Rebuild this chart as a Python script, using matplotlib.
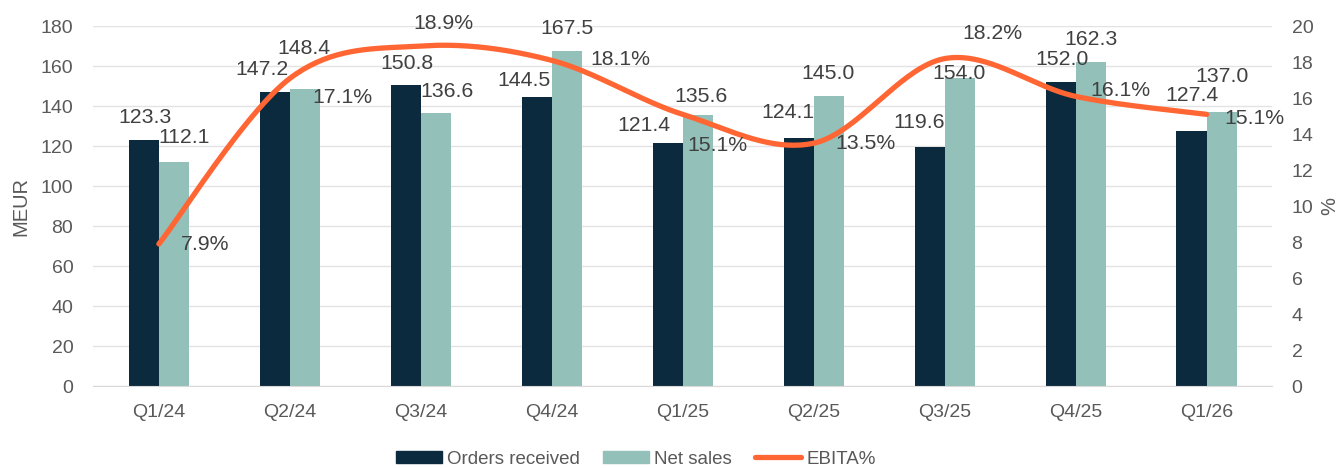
import numpy as np
import matplotlib
matplotlib.use("Agg")
from matplotlib import pyplot as plt
from matplotlib.lines import Line2D
from matplotlib.patches import Patch

plt.rcParams['font.family'] = ['Liberation Sans', 'DejaVu Sans']

quarters = ["Q1/24", "Q2/24", "Q3/24", "Q4/24", "Q1/25", "Q2/25", "Q3/25", "Q4/25", "Q1/26"]
orders = [123.3, 147.2, 150.8, 144.5, 121.4, 124.1, 119.6, 152.0, 127.4]
net_sales = [112.1, 148.4, 136.6, 167.5, 135.6, 145.0, 154.0, 162.3, 137.0]
ebita = [7.9, 17.1, 18.9, 18.1, 15.1, 13.5, 18.2, 16.1, 15.1]

## posicao dos rotulos (pixels, centro do texto relativo ao ponto)
orders_off = [(1, 22), (-13, 22), (1, 21), (-13, 17), (-24, 18), (-11, 25), (-10, 24), (1, 23), (0, 36)]
sales_off = [(10, 24), (-1, 41), (11, 21), (0, 23), (3, 18), (-1, 23), (-1, 5), (0, 22), (0, 36)]
ebita_off = [(46, -1), (53, -19), (23, 23), (69, 1), (35, -31), (52, 0), (48, 25), (45, 6), (48, -4)]

dark = "#0b2a3d"
teal = "#93c0b8"
orange = "#ff6633"
txt = "#595959"
lbl = "#404040"


## Linha suavizada tipo Excel (Catmull-Rom -> bezier cubica)
def smooth(x, y, n=40):
    px = np.concatenate([[x[0]], np.asarray(x, float), [x[-1]]])
    py = np.concatenate([[y[0]], np.asarray(y, float), [y[-1]]])
    xs, ys = [], []
    t = np.linspace(0, 1, n)[:, None]
    for i in range(1, len(px) - 2):
        p0 = np.array([px[i], py[i]])
        p3 = np.array([px[i + 1], py[i + 1]])
        c1 = p0 + (p3 - np.array([px[i - 1], py[i - 1]])) / 6
        c2 = p3 - (np.array([px[i + 2], py[i + 2]]) - p0) / 6
        b = (1 - t) ** 3 * p0 + 3 * (1 - t) ** 2 * t * c1 + 3 * (1 - t) * t ** 2 * c2 + t ** 3 * p3
        xs.extend(b[:, 0])
        ys.extend(b[:, 1])
    return xs, ys


fig = plt.figure(figsize=(13.44, 4.68), dpi=100)
ax = fig.add_axes([0.0695, 0.175, 0.877, 0.769])
ax2 = ax.twinx()

x = np.arange(len(quarters))
w = 0.23
ax.bar(x - w / 2, orders, w, color=dark, zorder=2)
ax.bar(x + w / 2, net_sales, w, color=teal, zorder=2)

fs = 15.3
for i in range(len(x)):
    ax.annotate(f"{orders[i]:.1f}", (x[i] - w / 2, orders[i]), xytext=orders_off[i],
                textcoords="offset pixels", ha="center", va="center", fontsize=fs, color=lbl)
    ax.annotate(f"{net_sales[i]:.1f}", (x[i] + w / 2, net_sales[i]), xytext=sales_off[i],
                textcoords="offset pixels", ha="center", va="center", fontsize=fs, color=lbl)

sx, sy = smooth(x, ebita)
ax2.plot(sx, sy, color=orange, lw=3.8, solid_capstyle="round", zorder=3)
for i in range(len(x)):
    ax2.annotate(f"{ebita[i]:.1f}%", (x[i], ebita[i]), xytext=ebita_off[i], textcoords="offset pixels",
                 ha="center", va="center", fontsize=fs, color=lbl, zorder=4)

ax.set_xlim(-0.5, len(x) - 0.5)
ax.set_ylim(0, 180)
ax.set_yticks(np.arange(0, 181, 20))
ax2.set_ylim(0, 20)
ax2.set_yticks(np.arange(0, 21, 2))
ax.set_xticks(x)
ax.set_xticklabels(quarters)
ax.grid(axis="y", color="#e3e3e3", lw=1, zorder=0)
ax.set_axisbelow(True)

for a in (ax, ax2):
    for s in a.spines.values():
        s.set_visible(False)
    a.tick_params(length=0, labelsize=14, colors=txt)
ax.spines["bottom"].set_visible(True)
ax.spines["bottom"].set_color("#d9d9d9")
ax.tick_params(axis="y", pad=14.5)
ax.tick_params(axis="x", pad=13)
ax2.tick_params(axis="y", pad=14)
ax.set_ylabel("MEUR", fontsize=14.5, color=txt, labelpad=7)
ax2.set_ylabel("%", fontsize=14.5, color=txt, labelpad=5)

handles = [Patch(color=dark), Patch(color=teal),
           Line2D([0], [0], color=orange, lw=3.8, solid_capstyle="round")]
fig.legend(handles, ["Orders received", "Net sales", "EBITA%"], loc="center",
           bbox_to_anchor=(0.473, 1 - 459 / 468), ncol=3, frameon=False, fontsize=13.5,
           handlelength=2.45, handleheight=0.6, handletextpad=0.3, columnspacing=1.2,
           labelcolor=txt)

fig.savefig("out.png", dpi=100)
